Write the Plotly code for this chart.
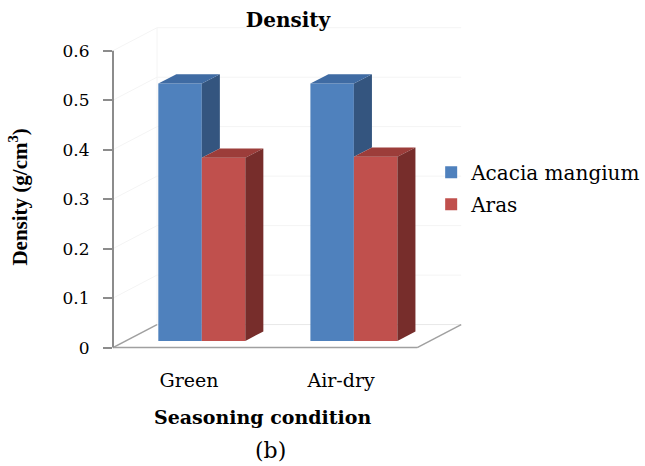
import plotly.graph_objects as go

# ---- data -------------------------------------------------------------
categories = ["Green", "Air-dry"]
acacia_density = [0.52, 0.52]
aras_density = [0.37, 0.372]
series_names = ["Acacia mangium", "Aras"]
y_tickvals = [0, 0.1, 0.2, 0.3, 0.4, 0.5, 0.6]
y_ticktext = ["0", "0.1", "0.2", "0.3", "0.4", "0.5", "0.6"]

# ---- page geometry (pixels) --------------------------------------------
W, H = 645, 466
AXIS_LEFT_PX = 113          # x pixel of the value axis
ZERO_PX = 348               # y pixel of density 0
PX_PER_X = 152              # pixels per category step
PX_PER_Y = 495              # pixels per density unit
X_MIN, X_MAX = -0.5, 1.9
Y_MIN, Y_MAX = -0.015, 0.66

plot_w = (X_MAX - X_MIN) * PX_PER_X
plot_h = (Y_MAX - Y_MIN) * PX_PER_Y
bottom_px = ZERO_PX - Y_MIN * PX_PER_Y
m_l = AXIS_LEFT_PX
m_r = W - AXIS_LEFT_PX - plot_w
m_t = ZERO_PX - Y_MAX * PX_PER_Y
m_b = H - bottom_px


def paper_x(px):
    return (px - AXIS_LEFT_PX) / plot_w


def paper_y(py):
    return (bottom_px - py) / plot_h


# 3-D look: floor depth and where the bars sit inside it
FLOOR_DX = 44 / PX_PER_X
FLOOR_DY = 23 / PX_PER_Y
FRONT_FRAC, DEPTH_FRAC = 0.29, 0.41
FRONT_DX, FRONT_DY = FLOOR_DX * FRONT_FRAC, FLOOR_DY * FRONT_FRAC
BAR_DX, BAR_DY = FLOOR_DX * DEPTH_FRAC, FLOOR_DY * DEPTH_FRAC
BAR_W = 0.286

BLUE = dict(front="#4F81BD", top="#3F6BA3", side="#34557F")
RED = dict(front="#C0504D", top="#9C3D3A", side="#772D2B")

GRID = "#F4F4F4"
AXIS = "#8C8C8C"
SERIF = "DejaVu Serif"

fig = go.Figure()

# front faces of the bars
offsets = [FRONT_DX - BAR_W, FRONT_DX]
for name, vals, col, off in zip(series_names, [acacia_density, aras_density],
                                [BLUE, RED], offsets):
    fig.add_trace(go.Bar(
        x=list(range(len(categories))), y=vals, base=FRONT_DY,
        offset=off, width=BAR_W, name=name, legendgroup=name,
        marker=dict(color=col["front"], line=dict(width=0)),
    ))


def poly(points):
    xs = [p[0] for p in points] + [points[0][0], None]
    ys = [p[1] for p in points] + [points[0][1], None]
    return xs, ys


faces = {"blue_top": ([], []), "blue_side": ([], []),
         "red_top": ([], []), "red_side": ([], [])}


def add(key, pts):
    xs, ys = poly(pts)
    faces[key][0].extend(xs)
    faces[key][1].extend(ys)


b = FRONT_DY
for i, (va, vr) in enumerate(zip(acacia_density, aras_density)):
    xl_a = i + offsets[0]
    xr_a = xl_a + BAR_W
    xl_r = i + offsets[1]
    xr_r = xl_r + BAR_W
    ta, tr = b + va, b + vr
    add("blue_top", [(xl_a, ta), (xl_a + BAR_DX, ta + BAR_DY),
                     (xr_a + BAR_DX, ta + BAR_DY), (xr_a, ta)])
    low = max(tr, b) if xl_r <= xr_a + 1e-9 else b
    if ta > low:
        add("blue_side", [(xr_a, low), (xr_a + BAR_DX, low + BAR_DY),
                          (xr_a + BAR_DX, ta + BAR_DY), (xr_a, ta)])
    add("red_top", [(xl_r, tr), (xl_r + BAR_DX, tr + BAR_DY),
                    (xr_r + BAR_DX, tr + BAR_DY), (xr_r, tr)])
    add("red_side", [(xr_r, b), (xr_r + BAR_DX, b + BAR_DY),
                     (xr_r + BAR_DX, tr + BAR_DY), (xr_r, tr)])

face_colors = {"blue_top": BLUE["top"], "blue_side": BLUE["side"],
               "red_top": RED["top"], "red_side": RED["side"]}
for key in ["blue_side", "blue_top", "red_top", "red_side"]:
    xs, ys = faces[key]
    fig.add_trace(go.Scatter(
        x=xs, y=ys, mode="lines", fill="toself",
        fillcolor=face_colors[key], line=dict(width=0, color=face_colors[key]),
        showlegend=False, hoverinfo="skip",
    ))

# walls, floor and axis line
shapes = []
x_left, x_right = X_MIN, X_MIN + 2
for lvl in y_tickvals[1:]:
    shapes.append(dict(type="line", xref="x", yref="y", layer="below",
                       x0=x_left + FLOOR_DX, x1=x_right + FLOOR_DX,
                       y0=lvl + FLOOR_DY, y1=lvl + FLOOR_DY,
                       line=dict(color=GRID, width=1)))
    shapes.append(dict(type="line", xref="x", yref="y", layer="below",
                       x0=x_left, x1=x_left + FLOOR_DX,
                       y0=lvl, y1=lvl + FLOOR_DY,
                       line=dict(color=GRID, width=1)))
shapes.append(dict(type="line", xref="x", yref="y", layer="below",
                   x0=x_left + FLOOR_DX, x1=x_left + FLOOR_DX,
                   y0=FLOOR_DY, y1=y_tickvals[-1] + FLOOR_DY,
                   line=dict(color=GRID, width=1)))
shapes.append(dict(type="line", xref="x", yref="y", layer="below",
                   x0=x_left + FLOOR_DX, x1=x_right + FLOOR_DX,
                   y0=FLOOR_DY, y1=FLOOR_DY,
                   line=dict(color="#E8E8E8", width=1)))
# floor outline
for (x0, y0, x1, y1) in [(x_left, 0, x_right, 0),
                         (x_left, 0, x_left + FLOOR_DX, FLOOR_DY),
                         (x_right, 0, x_right + FLOOR_DX, FLOOR_DY)]:
    shapes.append(dict(type="line", xref="x", yref="y", layer="above",
                       x0=x0, x1=x1, y0=y0, y1=y1,
                       line=dict(color="#A0A0A0", width=1.5)))
# value axis line
shapes.append(dict(type="line", xref="paper", yref="y", layer="above",
                   x0=0, x1=0, y0=0, y1=y_tickvals[-1],
                   line=dict(color=AXIS, width=2)))

annotations = [
    dict(text="<b>Seasoning condition</b>", xref="paper", yref="paper",
         x=paper_x(262), y=paper_y(417), xanchor="center", yanchor="middle",
         showarrow=False, font=dict(family=SERIF, size=19, color="black")),
    dict(text="(b)", xref="paper", yref="paper",
         x=paper_x(270), y=paper_y(451), xanchor="center", yanchor="middle",
         showarrow=False, font=dict(family=SERIF, size=22, color="black")),
    dict(text="<b>Density (g/cm<sup>3</sup>)</b>", xref="paper", yref="paper",
         x=paper_x(19), y=paper_y(197), xanchor="center", yanchor="middle",
         textangle=-90, showarrow=False,
         font=dict(family="Liberation Serif", size=21, color="black")),
]

fig.update_layout(
    width=W, height=H,
    margin=dict(l=m_l, r=m_r, t=m_t, b=m_b, autoexpand=False),
    paper_bgcolor="white", plot_bgcolor="white",
    barmode="overlay",
    title=dict(text="<b>Density</b>", x=288 / W, y=1 - 20 / H,
               xanchor="center", yanchor="middle", xref="container",
               yref="container",
               font=dict(family=SERIF, size=20, color="black")),
    xaxis=dict(range=[X_MIN, X_MAX], showgrid=False, zeroline=False,
               showline=False, tickvals=list(range(len(categories))),
               ticktext=categories, ticks="", ticklabelstandoff=12,
               tickfont=dict(family=SERIF, size=19, color="black"),
               fixedrange=True),
    yaxis=dict(range=[Y_MIN, Y_MAX], showgrid=False, zeroline=False,
               showline=False, tickvals=y_tickvals, ticktext=y_ticktext,
               ticks="outside", ticklen=9, tickwidth=2, tickcolor=AXIS,
               ticklabelstandoff=10,
               tickfont=dict(family=SERIF, size=17, color="black"),
               fixedrange=True),
    legend=dict(x=paper_x(431), y=paper_y(153), xanchor="left", yanchor="top",
                bgcolor="rgba(0,0,0,0)", tracegroupgap=3,
                font=dict(family=SERIF, size=20, color="black")),
    shapes=shapes,
    annotations=annotations,
    showlegend=True,
)

fig.write_html("out.html")
